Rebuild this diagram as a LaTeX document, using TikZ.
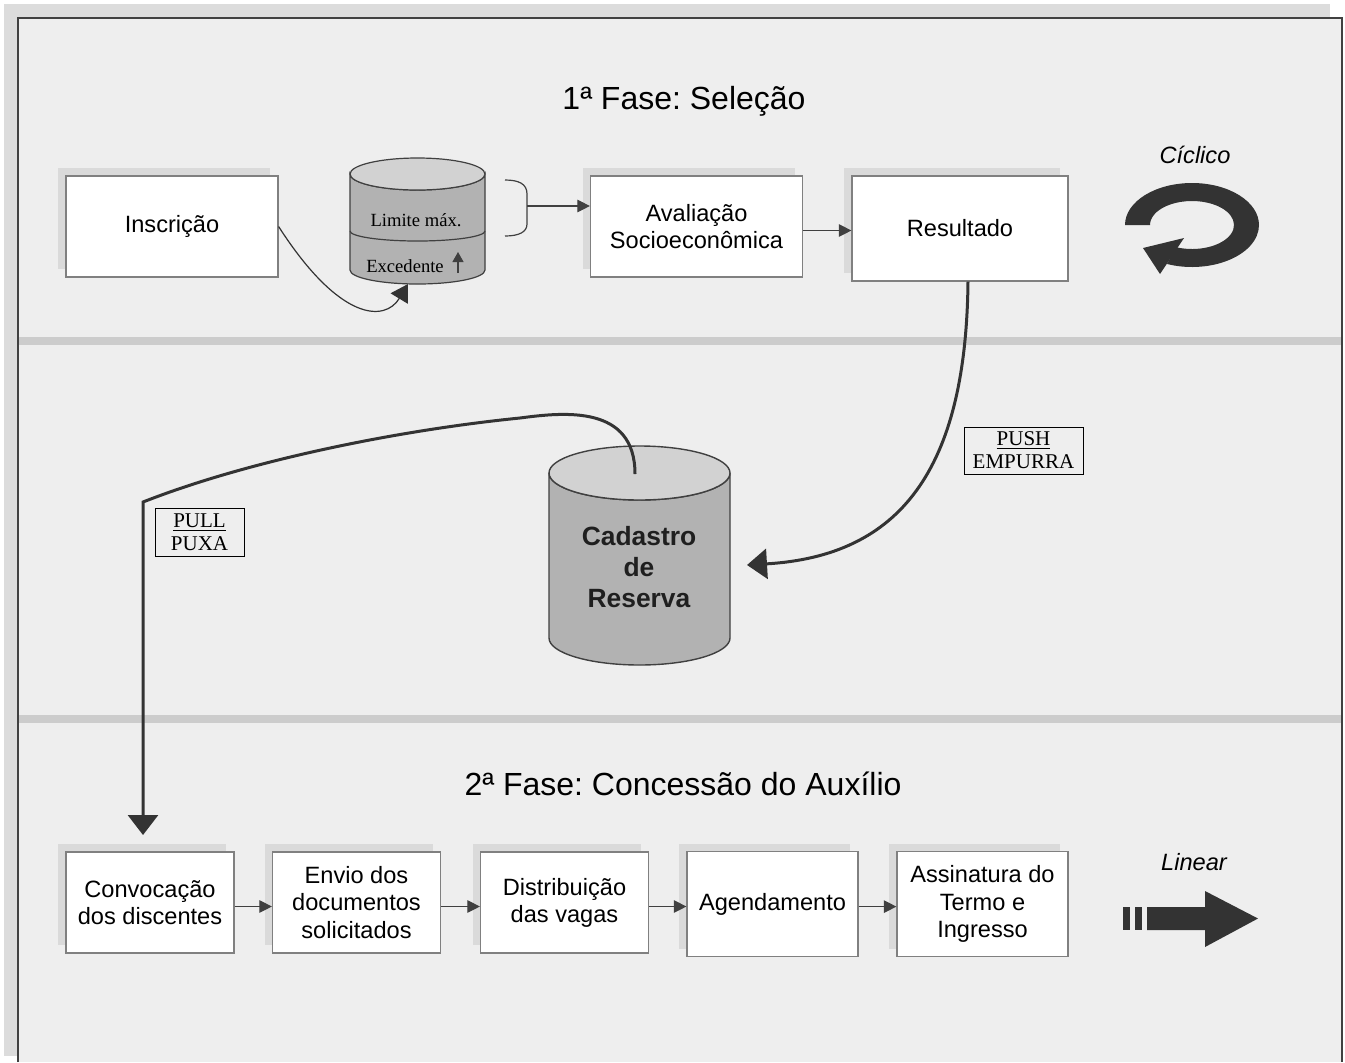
\documentclass[tikz,border=0pt]{standalone}
\usepackage{fontspec}
\setmainfont{Liberation Sans}
\newfontfamily\tnr{Liberation Serif}
\usetikzlibrary{arrows.meta,shadows}
\definecolor{outerg}{HTML}{DCDCDC}
\definecolor{panelg}{HTML}{EEEEEE}
\definecolor{sepg}{HTML}{CCCCCC}
\definecolor{boxg}{HTML}{808080}
\definecolor{shadg}{HTML}{DADADA}
\definecolor{darkg}{HTML}{333333}
\definecolor{lineg}{HTML}{404040}
\definecolor{cylbody}{HTML}{B2B2B2}
\definecolor{cyltop}{HTML}{D2D2D2}
\frenchspacing
\begin{document}
\begin{tikzpicture}[x=0.5pt,y=-0.5pt,
  box/.style={draw=boxg, line width=0.6pt, fill=white, inner sep=0pt, align=center,
    font=\fontsize{11.8}{13.6}\selectfont,
    general shadow={fill=shadg, shadow xshift=-4pt, shadow yshift=4pt}},
  thinarr/.style={draw=lineg, line width=0.6pt, -{Triangle[length=6.3pt,width=6.3pt]}},
  thickarr/.style={draw=darkg, line width=1.5pt, -{Triangle[length=10pt,width=15pt]}},
  lbl/.style={draw=black, line width=0.5pt, inner sep=0pt, align=center,
    font=\tnr\fontsize{10.5}{11.6}\selectfont},
  cyllbl/.style={font=\tnr\fontsize{9.3}{11}\selectfont, inner sep=0pt},
  title/.style={font=\fontsize{16}{19}\selectfont},
  mode/.style={font=\itshape\fontsize{11.8}{13.6}\selectfont}]
\useasboundingbox (0,0) rectangle (1345,1062);
% background
\fill[white] (0,0) rectangle (1345,1062);
\fill[outerg] (4,4) rectangle (1330,1056);
\fill[panelg] (18,18) rectangle (1342,1062);
\fill[sepg] (18,337) rectangle (1342,345);
\fill[sepg] (18,715) rectangle (1342,723);
\draw[lineg, line width=0.7pt] (18,1062) -- (18,18) -- (1342,18) -- (1342,1062);

% titles
\node[title] (t1) at (684,101) {1ª Fase: Seleção};
\node[title] (t2) at (683,784) {2ª Fase: Concessão do Auxílio};
\node[mode] (cic) at (1195,155) {Cíclico};
\node[mode] (lin) at (1194,862) {Linear};

% top row boxes
\node[box, minimum width=106pt, minimum height=50.5pt] (insc) at (172,226.5) {Inscrição};
\node[box, minimum width=106pt, minimum height=50.5pt] (aval) at (696.5,226.5) {Avaliação\\Socioeconômica};
\node[box, minimum width=108pt, minimum height=52.5pt] (res) at (960,228.5) {Resultado};

% small cylinder
\filldraw[fill=cylbody, draw=lineg, line width=0.6pt] (350,174) -- (350,270)
  arc[start angle=180, end angle=0, x radius=67.5, y radius=14] -- (485,174)
  arc[start angle=0, end angle=180, x radius=67.5, y radius=16] -- cycle;
\filldraw[fill=cyltop, draw=lineg, line width=0.6pt] (417.5,174) ellipse[x radius=67.5, y radius=16];
\draw[lineg, line width=0.6pt] (350,231) arc[start angle=180, end angle=0, x radius=67.5, y radius=10];
\node[cyllbl] (lim) at (416,220) {Limite máx.};
\node[cyllbl] (exc) at (405,266) {Excedente};
\coordinate (excA) at (458,273);
\coordinate (excB) at (458,252);
\draw[draw=lineg, line width=0.6pt, -{Triangle[length=5pt,width=5.5pt]}] (excA) -- (excB);

% brace and arrow to Avaliação
\coordinate (bmid) at (527,206);
\draw[lineg, line width=0.6pt] (505,180) .. controls (519,180) and (527,184) .. (527,194)
  -- (527,224) .. controls (527,232) and (519,236) .. (505,236);
\draw[thinarr] (bmid) -- (bmid -| aval.west);
\draw[thinarr] ([yshift=-2pt]aval.east) -- ([yshift=-2pt]aval.east -| res.west);

% Inscrição -> cylinder
\coordinate (cyltip) at (408,284);
\draw[draw=darkg, line width=0.6pt, -{Triangle[length=8.5pt,width=10pt]}] (insc.east)
  .. controls (340,322) and (385,322) .. (cyltip);

% cyclic symbol
\fill[darkg] (1192,225) ++(180:67 and 42)
  arc[start angle=180, end angle=472, x radius=67, y radius=42]
  -- ++(9.37,-16.69)
  arc[start angle=472, end angle=180, x radius=42, y radius=24] -- cycle;
\fill[darkg] (1143,248) -- (1184,238) -- (1160,274) -- cycle;

% Cadastro de Reserva cylinder
\filldraw[fill=cylbody, draw=lineg, line width=0.7pt] (549,473) -- (549,638)
  arc[start angle=180, end angle=0, x radius=90.5, y radius=27] -- (730,473)
  arc[start angle=0, end angle=180, x radius=90.5, y radius=27] -- cycle;
\filldraw[fill=cyltop, draw=lineg, line width=0.7pt] (639.5,473) ellipse[x radius=90.5, y radius=27];
\node[font=\bfseries\fontsize{13.2}{15.5}\selectfont, align=center, text=black!88] (cad) at (639,567) {Cadastro\\de\\Reserva};

% push
\coordinate (pushend) at (747,565);
\draw[thickarr] ([xshift=4pt]res.south) .. controls (966,470) and (900,556) .. (pushend);
\node[lbl, minimum width=59.5pt, minimum height=23.5pt] (push) at (1023.5,450.5) {\underline{PUSH}\\EMPURRA};

% pull
\coordinate (pullstart) at (635,474);
\coordinate (pullend) at (143,835);
\draw[thickarr] (pullstart) .. controls (635,405) and (565,412) .. (520,418)
  .. controls (400,430) and (250,460) .. (143,502) -- (pullend);
\node[lbl, minimum width=44.5pt, minimum height=24pt] (pull) at (199.5,532) {\underline{PULL}\\PUXA};

% bottom row
\node[box, minimum width=84pt, minimum height=50.5pt] (conv) at (150,902.5) {Convocação\\dos discentes};
\node[box, minimum width=84pt, minimum height=50.5pt] (envio) at (356.5,902.5) {Envio dos\\documentos\\solicitados};
\node[box, minimum width=84pt, minimum height=50.5pt] (dist) at (564.5,902.5) {Distribuição\\das vagas};
\node[box, minimum width=85.5pt, minimum height=52.5pt] (agend) at (772.5,904) {Agendamento};
\node[box, minimum width=85.5pt, minimum height=52.5pt] (assin) at (982.5,904) {Assinatura do\\Termo e\\Ingresso};
\draw[thinarr] ([yshift=-2pt]conv.east) -- ([yshift=-2pt]conv.east -| envio.west);
\draw[thinarr] ([yshift=-2pt]envio.east) -- ([yshift=-2pt]envio.east -| dist.west);
\draw[thinarr] ([yshift=-2pt]dist.east) -- ([yshift=-2pt]dist.east -| agend.west);
\draw[thinarr] ([yshift=-1.3pt]agend.east) -- ([yshift=-1.3pt]agend.east -| assin.west);

% linear symbol
\fill[darkg] (1123,907) rectangle (1130,930);
\fill[darkg] (1135,907) rectangle (1142,930);
\fill[darkg] (1147,907) -- (1205,907) -- (1205,891) -- (1258,918.5) -- (1205,947)
  -- (1205,930) -- (1147,930) -- cycle;
\end{tikzpicture}
\end{document}
